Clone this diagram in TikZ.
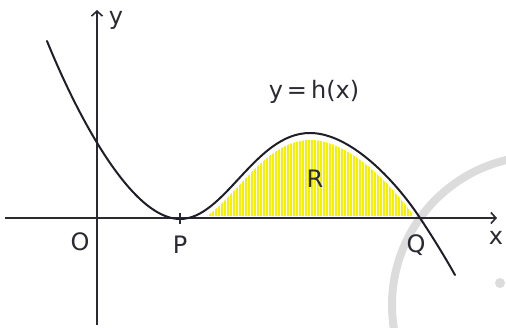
\documentclass[tikz,border=0pt]{standalone}
\usepackage{fontspec}
\setsansfont{DejaVu Sans}
\usetikzlibrary{arrows.meta}
\definecolor{axiscol}{HTML}{2A2A33}
\definecolor{curvecol}{HTML}{1E1E28}
\definecolor{shadecol}{HTML}{F5F000}
\definecolor{markcol}{HTML}{DCDCDC}
\tikzset{
  axisline/.style={draw=axiscol, line width=2pt, -{Straight Barb[length=5pt,width=11pt,line width=1.6pt]}},
  curveline/.style={draw=curvecol, line width=2pt, line cap=round},
  lbl/.style={font=\sffamily\fontsize{24}{24}\selectfont, text=axiscol, inner sep=0pt},
}
\begin{document}
\begin{tikzpicture}[x=1pt,y=-1pt]
\useasboundingbox (0,0) rectangle (506,327);
% watermark circle
\draw[markcol, line width=8pt] (541,305) circle[radius=149];
\fill[markcol] (500,283) circle[radius=5];
% shading
\begin{scope}
\clip (180,226) .. controls (225,226) and (255,140) .. (310,140)
      .. controls (350,140) and (395,187) .. (420,225) -- (420,216) -- (180,216) -- cycle;
\clip (205,230) rectangle (413,100);
\pgfmathsetseed{7}
\foreach \i in {0,...,72}{
  \pgfmathsetmacro{\xx}{204+3*\i}
  \pgfmathsetmacro{\yt}{125+8*rnd}
  \draw[shadecol, line width=2.4pt] (\xx,216) -- (\xx,\yt);
}
\end{scope}
% axes
\coordinate (xs) at (5,218);
\coordinate (xe) at (497,218);
\coordinate (ys) at (97,325);
\coordinate (ye) at (97,10);
\draw[axisline] (xs) -- (xe);
\draw[axisline] (ys) -- (ye);
% curve
\coordinate (A) at (47,41);
\coordinate (P) at (180,219);
\coordinate (M) at (310,133);
\coordinate (Q) at (420,218);
\coordinate (E) at (455,275);
\draw[curveline] (A) .. controls (75,110) and (130,219) .. (P)
  .. controls (225,219) and (255,133) .. (M)
  .. controls (350,133) and (395,180) .. (Q)
  .. controls (432,236) and (445,257) .. (E);
% tick at P
\coordinate (pt1) at (180,213);
\coordinate (pt2) at (180,224);
\draw[axiscol, line width=1.6pt] (pt1) -- (pt2);
% labels
\node[lbl] (ly) at (116,20) {y};
\node[lbl] (lx) at (496,238) {x};
\node[lbl] (lO) at (80,242) {O};
\node[lbl] (lP) at (180,245) {P};
\node[lbl] (lQ) at (416,245) {Q};
\node[lbl] (lR) at (315,179) {R};
\node[lbl] (lh) at (314,92) {y\,=\,h(x)};
\end{tikzpicture}
\end{document}
